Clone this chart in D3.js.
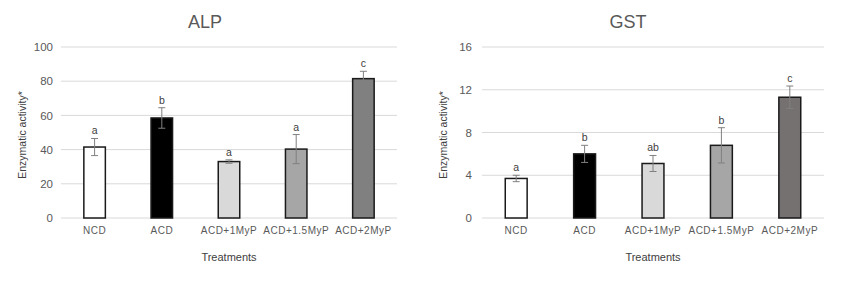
<!DOCTYPE html>
<html>
<head>
<meta charset="utf-8">
<script src="https://cdn.jsdelivr.net/npm/d3@7"></script>
<style>
  html, body { margin: 0; padding: 0; background: #fff; }
  svg { display: block; font-family: Arial, "Liberation Sans", sans-serif; }
</style>
</head>
<body>
<svg id="chart" width="850" height="282"></svg>
<script>
const categories = ["NCD", "ACD", "ACD+1MyP", "ACD+1.5MyP", "ACD+2MyP"];

const alpValues = [41.5, 58.5, 33, 40.3, 81.5];
const alpErrors = [5, 6, 1, 8.5, 4.3];
const alpLetters = ["a", "b", "a", "a", "c"];
const alpTicks = [0, 20, 40, 60, 80, 100];

const gstValues = [3.7, 6.0, 5.1, 6.8, 11.3];
const gstErrors = [0.3, 0.8, 0.75, 1.65, 1.05];
const gstLetters = ["a", "b", "ab", "b", "c"];
const gstTicks = [0, 4, 8, 12, 16];

const alpColors = ["#ffffff", "#000000", "#d9d9d9", "#a6a6a6", "#808080"];
const gstColors = ["#ffffff", "#000000", "#d9d9d9", "#a6a6a6", "#767171"];

const svg = d3.select("#chart");

function panel(cfg) {
  const g = svg.append("g");
  const x = d3.scaleBand().domain(categories).range([cfg.x0, cfg.x1]).paddingInner(0.68).paddingOuter(0.34);
  const y = d3.scaleLinear().domain([0, cfg.ticks[cfg.ticks.length - 1]]).range([218, 47]);

  // gridlines
  g.selectAll("line.grid").data(cfg.ticks).enter().append("line")
    .attr("x1", cfg.x0).attr("x2", cfg.x1)
    .attr("y1", d => y(d)).attr("y2", d => y(d))
    .attr("stroke", "#d9d9d9").attr("stroke-width", 1);

  // y axis tick labels
  const yAxis = d3.axisLeft(y).tickValues(cfg.ticks).tickSize(0).tickPadding(cfg.tickPad);
  const ya = g.append("g").attr("transform", `translate(${cfg.x0},0)`).call(yAxis);
  ya.select(".domain").remove();
  ya.selectAll("text").attr("font-size", 11.5).attr("fill", "#595959").attr("font-family", "Arial, 'Liberation Sans', sans-serif");

  // x axis labels
  const xAxis = d3.axisBottom(x).tickSize(0).tickPadding(9);
  const xa = g.append("g").attr("transform", `translate(0,218)`).call(xAxis);
  xa.select(".domain").remove();
  xa.selectAll("text").attr("font-size", 10).attr("letter-spacing", 0.5).attr("fill", "#595959").attr("font-family", "Arial, 'Liberation Sans', sans-serif");

  // bars
  g.selectAll("rect.bar").data(cfg.values).enter().append("rect")
    .attr("x", (d, i) => x(categories[i]))
    .attr("y", d => y(d))
    .attr("width", x.bandwidth())
    .attr("height", d => y(0) - y(d))
    .attr("fill", (d, i) => cfg.colors[i])
    .attr("stroke", "#1a1a1a").attr("stroke-width", 1.5);

  // error bars
  cfg.values.forEach((v, i) => {
    const cx = x(categories[i]) + x.bandwidth() / 2;
    const e = cfg.errors[i];
    const eg = g.append("g").attr("stroke", "#808080").attr("stroke-width", 1);
    eg.append("line").attr("x1", cx).attr("x2", cx).attr("y1", y(v + e)).attr("y2", y(v - e));
    eg.append("line").attr("x1", cx - 3.5).attr("x2", cx + 3.5).attr("y1", y(v + e)).attr("y2", y(v + e));
    eg.append("line").attr("x1", cx - 3.5).attr("x2", cx + 3.5).attr("y1", y(v - e)).attr("y2", y(v - e));
    g.append("text").attr("x", cx).attr("y", y(v + e) - 4)
      .attr("text-anchor", "middle").attr("font-size", 10.5).attr("fill", "#404040")
      .text(cfg.letters[i]);
  });

  // title
  g.append("text").attr("x", (cfg.x0 + cfg.x1) / 2 + cfg.titleDx).attr("y", 28)
    .attr("text-anchor", "middle").attr("font-size", 18).attr("fill", "#595959").text(cfg.title);

  // axis titles
  g.append("text").attr("transform", `translate(${cfg.yLabelX},135) rotate(-90)`)
    .attr("text-anchor", "middle").attr("font-size", 10.5).attr("fill", "#404040")
    .text("Enzymatic activity*");
  g.append("text").attr("x", (cfg.x0 + cfg.x1) / 2).attr("y", 261)
    .attr("text-anchor", "middle").attr("font-size", 11).attr("fill", "#404040").text("Treatments");
}

panel({ title: "ALP", x0: 61, x1: 397, values: alpValues, errors: alpErrors, letters: alpLetters,
        ticks: alpTicks, colors: alpColors, yLabelX: 26, tickPad: 8, titleDx: -24 });
panel({ title: "GST", x0: 482, x1: 824, values: gstValues, errors: gstErrors, letters: gstLetters,
        ticks: gstTicks, colors: gstColors, yLabelX: 447, tickPad: 10, titleDx: -25 });
</script>
</body>
</html>
